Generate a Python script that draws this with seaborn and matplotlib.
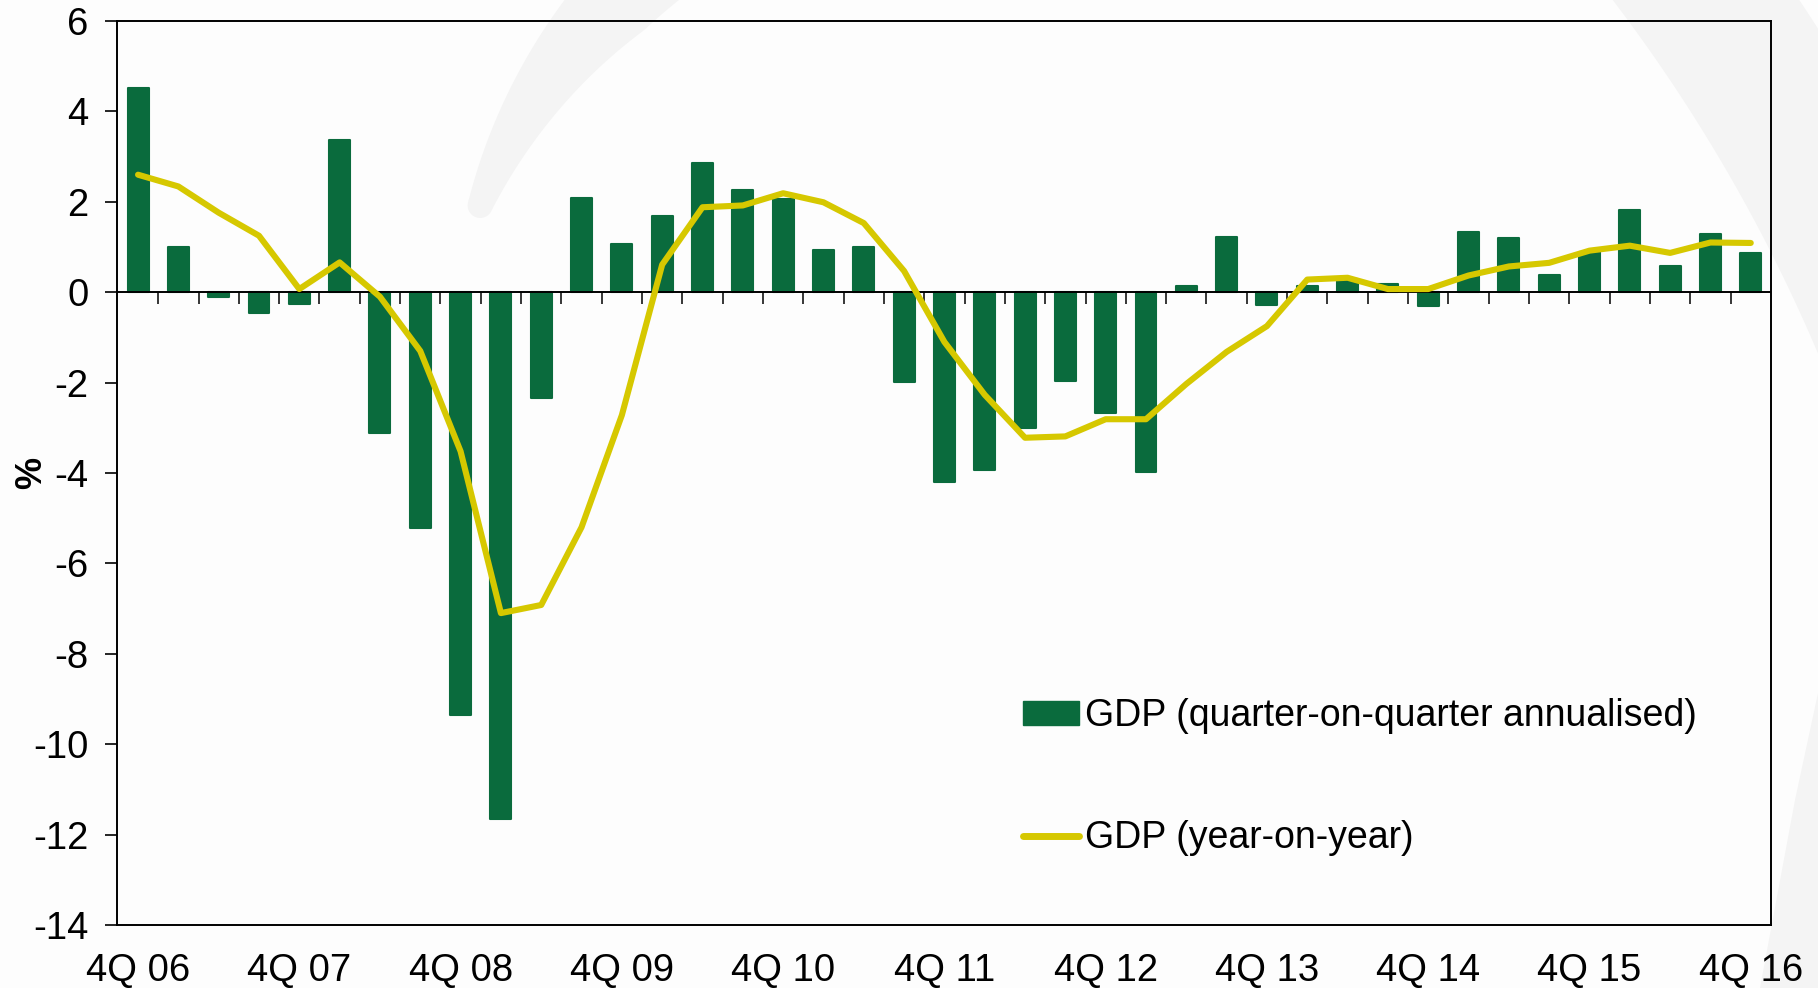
import numpy as np
import pandas as pd
import matplotlib
matplotlib.use("Agg")
import matplotlib.pyplot as plt
import seaborn as sns
from matplotlib.patches import Polygon, Patch, Circle
from matplotlib.lines import Line2D
from matplotlib.transforms import IdentityTransform

# ---------------- data ----------------
quarters = ["4Q 06",
            "1Q 07", "2Q 07", "3Q 07", "4Q 07",
            "1Q 08", "2Q 08", "3Q 08", "4Q 08",
            "1Q 09", "2Q 09", "3Q 09", "4Q 09",
            "1Q 10", "2Q 10", "3Q 10", "4Q 10",
            "1Q 11", "2Q 11", "3Q 11", "4Q 11",
            "1Q 12", "2Q 12", "3Q 12", "4Q 12",
            "1Q 13", "2Q 13", "3Q 13", "4Q 13",
            "1Q 14", "2Q 14", "3Q 14", "4Q 14",
            "1Q 15", "2Q 15", "3Q 15", "4Q 15",
            "1Q 16", "2Q 16", "3Q 16", "4Q 16"]

qoq = [4.52, 0.99, -0.10, -0.47, -0.26, 3.37, -3.12, -5.22, -9.36, -11.66,
       -2.33, 2.09, 1.06, 1.69, 2.87, 2.27, 2.06, 0.94, 1.00, -1.98,
       -4.21, -3.93, -3.00, -1.96, -2.68, -3.97, 0.13, 1.22, -0.29, 0.13,
       0.30, 0.18, -0.30, 1.33, 1.19, 0.39, 0.90, 1.83, 0.57, 1.28, 0.87]

yoy = [2.60, 2.34, 1.76, 1.25, 0.07, 0.66, -0.10, -1.30, -3.52, -7.10,
       -6.92, -5.20, -2.72, 0.61, 1.88, 1.92, 2.19, 1.99, 1.53, 0.47,
       -1.10, -2.27, -3.22, -3.19, -2.81, -2.81, -2.03, -1.32, -0.75, 0.28,
       0.32, 0.07, 0.07, 0.37, 0.57, 0.65, 0.92, 1.03, 0.87, 1.10, 1.09]

tick_labels = ["4Q 06", "4Q 07", "4Q 08", "4Q 09", "4Q 10", "4Q 11",
               "4Q 12", "4Q 13", "4Q 14", "4Q 15", "4Q 16"]
y_ticks = [-14, -12, -10, -8, -6, -4, -2, 0, 2, 4, 6]

series_labels = ["GDP (quarter-on-quarter annualised)", "GDP (year-on-year)"]

# ---------------- style ----------------
GREEN = "#0A6B3D"
YELLOW = "#D6C800"
WM = "#F4F4F4"
BG = "#FDFDFD"

sns.set_theme(style="white")
plt.rcParams['font.family'] = ['Liberation Sans', 'DejaVu Sans']
plt.rcParams['text.color'] = 'black'
plt.rcParams['axes.labelcolor'] = 'black'

fig = plt.figure(figsize=(18.18, 9.88), dpi=100, facecolor=BG)
ax = fig.add_axes([0.0644, 0.0638, 0.9097, 0.9149])
ax.set_facecolor('none')

# ---------------- watermark (decorative background arcs, pixel coords) ----------------
ident = IdentityTransform()
cx, cy, r = 995.0, 589.0, 550.0
th = np.linspace(122, 159.4, 80)
w = np.clip(82 - 2.2 * (th - 133.5), 25, 82)
rad = np.deg2rad(th)
outer = np.c_[cx + (r + w / 2) * np.cos(rad), cy + (r + w / 2) * np.sin(rad)]
inner = np.c_[cx + (r - w / 2) * np.cos(rad), cy + (r - w / 2) * np.sin(rad)]
fig.add_artist(Polygon(np.vstack([outer, inner[::-1]]), closed=True,
                       transform=ident, facecolor=WM, edgecolor='none', zorder=-5))
fig.add_artist(Circle((cx + r * np.cos(rad[-1]), cy + r * np.sin(rad[-1])), w[-1] / 2,
                      transform=ident, facecolor=WM, edgecolor='none', zorder=-5))

cx2, cy2 = 310.0, -5.0
th2 = np.deg2rad(np.linspace(10, 45, 80))
o2 = np.c_[cx2 + 1790 * np.cos(th2), cy2 + 1790 * np.sin(th2)]
i2 = np.c_[cx2 + 1638 * np.cos(th2), cy2 + 1638 * np.sin(th2)]
fig.add_artist(Polygon(np.vstack([o2, i2[::-1]]), closed=True,
                       transform=ident, facecolor=WM, edgecolor='none', zorder=-5))
fig.add_artist(Polygon([(1830, 300), (1818, 295), (1795, 188), (1760, 0), (1830, 0)],
                       closed=True, transform=ident, facecolor=WM, edgecolor='none', zorder=-5))

# ---------------- plot ----------------
df = pd.DataFrame({"quarter": quarters, "qoq": qoq, "yoy": yoy})
df["pos"] = np.arange(len(df))

sns.barplot(data=df, x="quarter", y="qoq", color=GREEN, saturation=1,
            width=0.52, ax=ax, zorder=2, edgecolor=GREEN, linewidth=1.5)
for p in ax.patches:
    p.set_joinstyle('round')
sns.lineplot(data=df, x="pos", y="yoy", color=YELLOW, lw=4.4, ax=ax, zorder=4,
             solid_capstyle='round', solid_joinstyle='round')

n = len(quarters)
ax.axhline(0, color='black', lw=1.4, zorder=3)
ax.vlines(df["pos"].iloc[:-1] + 0.5, -0.265, 0, color='black', lw=1.1, zorder=3)

ax.set_xlim(-0.52, n - 0.5)
ax.set_ylim(-14, 6)
ax.set_yticks(y_ticks)
ax.set_yticklabels([str(v) for v in y_ticks])
ax.set_xticks(df["pos"].iloc[::4])
ax.set_xticklabels(tick_labels)
ax.set_xlabel("")
ax.set_ylabel("%", fontsize=26, fontweight='bold', color='black')
ax.yaxis.set_label_coords(-0.041, 0.5)

ax.tick_params(axis='x', length=0, labelsize=27.5, pad=20, colors='black')
ax.tick_params(axis='y', direction='out', length=8.6, width=1.2, labelsize=27.5,
               pad=12, colors='black', left=True)
for s in ax.spines.values():
    s.set_visible(True)
    s.set_color('black')
    s.set_linewidth(1.4)

handles = [Patch(facecolor=GREEN, edgecolor=GREEN),
           Line2D([0], [0], color=YELLOW, lw=5, solid_capstyle='round')]
leg = ax.legend(handles, series_labels, loc='upper left', bbox_to_anchor=(0.5627, 0.2935),
                bbox_transform=fig.transFigure, frameon=False, fontsize=27,
                handlelength=1.5, handleheight=0.62, handletextpad=0.16,
                labelspacing=2.3, borderpad=0, borderaxespad=0)
for t in leg.get_texts():
    t.set_color('black')

fig.savefig("out.png", dpi=100, facecolor=BG)
